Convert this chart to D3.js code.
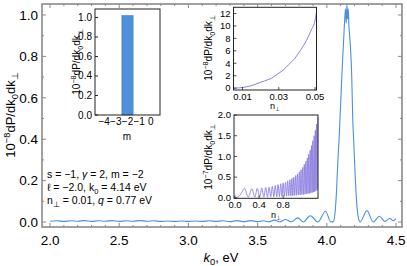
<!DOCTYPE html>
<html>
<head>
<meta charset="utf-8">
<script src="https://cdn.jsdelivr.net/npm/d3@7"></script>
<style>
  body { margin: 0; background: #fff; }
  svg { display: block; font-family: "Liberation Sans", Arial, sans-serif; }
</style>
</head>
<body>
<div id="chart"></div>
<script>
// main spectrum: k0 (eV) vs 10^-8 dP/dk0dk_perp
const mainK = [2.0, 2.05, 2.1, 2.15, 2.2, 2.25, 2.3, 2.35, 2.4, 2.45, 2.5, 2.55, 2.6, 2.65, 2.7, 2.75,
  2.8, 2.85, 2.9, 2.95, 3.0, 3.05, 3.1, 3.15, 3.2, 3.25, 3.3, 3.35, 3.4, 3.45, 3.5, 3.54, 3.58,
  3.62, 3.66, 3.70, 3.745, 3.79, 3.83, 3.88, 3.935, 3.99, 4.03, 4.047, 4.06, 4.07, 4.08, 4.085,
  4.09, 4.095, 4.105, 4.115, 4.12, 4.125, 4.13, 4.135, 4.14, 4.145, 4.15, 4.155, 4.16, 4.165,
  4.17, 4.18, 4.187, 4.195, 4.205, 4.215, 4.228, 4.24, 4.29, 4.335, 4.38, 4.42, 4.455, 4.48, 4.5];
const mainV = [0.004, 0.006, 0.003, 0.006, 0.004, 0.007, 0.003, 0.006, 0.004, 0.007, 0.003, 0.006,
  0.004, 0.007, 0.004, 0.006, 0.003, 0.005, 0.003, 0.005, 0.003, 0.005, 0.003, 0.006, 0.003, 0.006,
  0.002, 0.007, 0.002, 0.007, 0.002, 0.006, 0.001, 0.009, 0.001, 0.012, 0.001, 0.02, 0.0, 0.03,
  0.0, 0.052, 0.0, 0.002, 0.05, 0.15, 0.3, 0.36, 0.42, 0.5, 0.65, 0.8, 0.86, 0.93, 0.99, 1.03,
  0.96, 1.05, 0.98, 1.03, 0.94, 0.9, 0.85, 0.7, 0.5, 0.38, 0.22, 0.1, 0.02, 0.0, 0.055, 0.0,
  0.028, 0.002, 0.018, 0.006, 0.016];

// inset 1: bar chart over m
const barM = [-4, -3, -2, -1, 0];
const barV = [0, 0, 1.02, 0, 0];

// inset 2: small n_perp range
const smallN = [0.005, 0.0085, 0.012, 0.0155, 0.0186, 0.022, 0.026, 0.029, 0.0324, 0.0355,
  0.0389, 0.042, 0.0453, 0.048, 0.05, 0.0508];
const smallV = [0.0, 0.05, 0.2, 0.45, 0.8, 1.15, 1.6, 2.2, 2.9, 3.8, 4.8, 6.1, 7.7, 9.4, 10.9, 12.3];

// inset 3: wide n_perp range (oscillating)
const wideN = [0, 0.05, 0.1, 0.156, 0.22, 0.28, 0.33, 0.37, 0.41, 0.445, 0.48, 0.51, 0.54, 0.567,
  0.594, 0.62, 0.645, 0.67, 0.693, 0.716, 0.738, 0.76, 0.78, 0.8, 0.82, 0.84, 0.858, 0.876, 0.894,
  0.912, 0.929, 0.946, 0.962, 0.978, 0.994, 1.01, 1.025, 1.04, 1.055, 1.07, 1.084, 1.098, 1.112,
  1.126, 1.139, 1.152, 1.165, 1.178, 1.19, 1.202, 1.214, 1.226, 1.238, 1.25, 1.261, 1.272, 1.283,
  1.294, 1.305, 1.316, 1.326, 1.336, 1.346, 1.356, 1.366, 1.376];
const wideV = [0, 0.02, 0.1, 0.23, 0.02, 0.22, 0.02, 0.23, 0.02, 0.24, 0.02, 0.25, 0.02, 0.26,
  0.03, 0.28, 0.03, 0.3, 0.03, 0.32, 0.03, 0.34, 0.04, 0.36, 0.04, 0.38, 0.04, 0.41, 0.05, 0.44,
  0.05, 0.47, 0.05, 0.5, 0.06, 0.54, 0.06, 0.58, 0.07, 0.63, 0.07, 0.68, 0.08, 0.74, 0.08, 0.81,
  0.09, 0.88, 0.1, 0.96, 0.1, 1.05, 0.11, 1.15, 0.12, 1.26, 0.13, 1.38, 0.14, 1.5, 0.15, 1.63,
  0.17, 1.78, 0.2, 1.95];

const mainXTicks = [2.0, 2.5, 3.0, 3.5, 4.0, 4.5];
const mainYTicks = [0.0, 0.2, 0.4, 0.6, 0.8, 1.0];
const barYTicks = [0.0, 0.2, 0.4, 0.6, 0.8, 1.0];
const smallXTicks = [0.01, 0.03, 0.05];
const smallYTicks = [0, 2, 4, 6, 8, 10, 12];
const wideXTicks = [0.0, 0.4, 0.8];
const wideYTicks = [0.0, 0.5, 1.0, 1.5, 2.0];

const W = 407, H = 266;
const blue = "#4a90dc";
const purple = "#8b7de0";

const svg = d3.select("#chart").append("svg")
  .attr("width", W).attr("height", H);

// helper: rotated y-title "10^p dP/dk0dk⊥"
function yTitle(g, x, y, size, power) {
  const t = g.append("text")
    .attr("transform", `translate(${x},${y}) rotate(-90)`)
    .attr("text-anchor", "middle")
    .style("font-size", size + "px");
  t.append("tspan").text("10");
  t.append("tspan").attr("dy", -size * 0.4).style("font-size", size * 0.72 + "px").text(power);
  t.append("tspan").attr("dy", size * 0.4).text("dP/dk");
  t.append("tspan").attr("dy", size * 0.25).style("font-size", size * 0.72 + "px").text("0");
  t.append("tspan").attr("dy", -size * 0.25).text("dk");
  t.append("tspan").attr("dy", size * 0.25).style("font-size", size * 0.72 + "px").text("⊥");
}

function nPerp(g, x, y, size) {
  const t = g.append("text").attr("x", x).attr("y", y)
    .attr("text-anchor", "middle").style("font-size", size + "px");
  t.append("tspan").text("n");
  t.append("tspan").attr("dy", size * 0.25).style("font-size", size * 0.7 + "px").text("⊥");
}

// frame with inward ticks on all sides
function frame(g, x, y, xt, yt, color, width, tickLen, fontSize, fmtX, fmtY, labelGap) {
  const [x0, x1] = x.range();
  const [y0, y1] = y.range();
  g.append("rect")
    .attr("x", x0).attr("y", y1)
    .attr("width", x1 - x0).attr("height", y0 - y1)
    .attr("fill", "none").attr("stroke", color).attr("stroke-width", width);
  g.selectAll(null).data(xt).join("line")
    .attr("x1", d => x(d)).attr("x2", d => x(d))
    .attr("y1", y0).attr("y2", y0 - tickLen)
    .attr("stroke", color).attr("stroke-width", 0.8);
  g.selectAll(null).data(yt).join("line")
    .attr("x1", x0).attr("x2", x0 + tickLen)
    .attr("y1", d => y(d)).attr("y2", d => y(d))
    .attr("stroke", color).attr("stroke-width", 0.8);
  g.selectAll(null).data(xt).join("text")
    .attr("x", d => x(d)).attr("y", y0 + labelGap)
    .attr("text-anchor", "middle").style("font-size", fontSize + "px")
    .text(fmtX);
  g.selectAll(null).data(yt).join("text")
    .attr("x", x0 - 3).attr("y", d => y(d))
    .attr("dy", "0.35em")
    .attr("text-anchor", "end").style("font-size", fontSize + "px")
    .text(fmtY);
}

// ---- main plot ----
const x = d3.scaleLinear().domain([1.942, 4.543]).range([42, 402]);
const y = d3.scaleLinear().domain([-0.024, 1.053]).range([227, 4]);

const main = svg.append("g");
main.append("rect").attr("x", 42).attr("y", 4).attr("width", 360).attr("height", 223)
  .attr("fill", "none").attr("stroke", "#8a8a8a").attr("stroke-width", 1.6);

const minorX = d3.range(20, 46).map(d => d / 10);
const minorY = d3.range(0, 11).map(d => d / 10);
main.selectAll(null).data(minorX).join("line")
  .attr("x1", d => x(d)).attr("x2", d => x(d))
  .attr("y1", 227).attr("y2", d => 227 - (mainXTicks.includes(d) ? 4 : 2))
  .attr("stroke", "#8a8a8a");
main.selectAll(null).data(minorX).join("line")
  .attr("x1", d => x(d)).attr("x2", d => x(d))
  .attr("y1", 4).attr("y2", d => 4 + (mainXTicks.includes(d) ? 4 : 2))
  .attr("stroke", "#8a8a8a");
main.selectAll(null).data(minorY).join("line")
  .attr("x1", 42).attr("x2", (d, i) => 42 + (i % 2 === 0 ? 4 : 2))
  .attr("y1", d => y(d)).attr("y2", d => y(d))
  .attr("stroke", "#8a8a8a");
main.selectAll(null).data(minorY).join("line")
  .attr("x1", 402).attr("x2", (d, i) => 402 - (i % 2 === 0 ? 4 : 2))
  .attr("y1", d => y(d)).attr("y2", d => y(d))
  .attr("stroke", "#8a8a8a");

main.selectAll(null).data(mainXTicks).join("text")
  .attr("x", d => x(d)).attr("y", 245)
  .attr("text-anchor", "middle").style("font-size", "13.5px")
  .text(d => d.toFixed(1));
main.selectAll(null).data(mainYTicks).join("text")
  .attr("x", 38).attr("y", d => y(d)).attr("dy", "0.35em")
  .attr("text-anchor", "end").style("font-size", "13.5px")
  .text(d => d.toFixed(1));

yTitle(main, 15, 115, 13, "−8");
const xt = main.append("text").attr("x", 221).attr("y", 262)
  .attr("text-anchor", "middle").style("font-size", "13px");
xt.append("tspan").style("font-style", "italic").text("k");
xt.append("tspan").attr("dy", 3).style("font-size", "9.5px").text("0");
xt.append("tspan").attr("dy", -3).text(", eV");

const mainData = mainK.map((k, i) => [k, mainV[i]]);
main.append("path")
  .datum(mainData)
  .attr("fill", "none").attr("stroke", blue).attr("stroke-width", 1.1)
  .attr("d", d3.line().x(d => x(d[0])).y(d => y(d[1])).curve(d3.curveMonotoneX));

// parameter text
const info = svg.append("g").style("font-size", "10.5px");
const l1 = info.append("text").attr("x", 47).attr("y", 178);
l1.append("tspan").text("s = −1, ");
l1.append("tspan").style("font-style", "italic").text("γ");
l1.append("tspan").text(" = 2,  m = −2");
const l2 = info.append("text").attr("x", 47).attr("y", 191);
l2.append("tspan").text("ℓ = −2.0,  k");
l2.append("tspan").attr("dy", 2.5).style("font-size", "7.5px").text("0");
l2.append("tspan").attr("dy", -2.5).text(" = 4.14 eV");
const l3 = info.append("text").attr("x", 47).attr("y", 204);
l3.append("tspan").text("n");
l3.append("tspan").attr("dy", 2.5).style("font-size", "7.5px").text("⊥");
l3.append("tspan").attr("dy", -2.5).text(" = 0.01,  ");
l3.append("tspan").style("font-style", "italic").text("q");
l3.append("tspan").text(" = 0.77 eV");

// ---- inset 1: bars ----
const bx = d3.scaleBand().domain(barM).range([95, 160]).paddingInner(0.04).paddingOuter(0.3);
const by = d3.scaleLinear().domain([0, 1.087]).range([115, 9]);
const ins1 = svg.append("g");
ins1.append("rect").attr("x", 95).attr("y", 9).attr("width", 65).attr("height", 106)
  .attr("fill", "#fff");
ins1.selectAll(null).data(barM).join("rect")
  .attr("x", d => bx(d)).attr("width", bx.bandwidth())
  .attr("y", (d, i) => by(barV[i])).attr("height", (d, i) => by(0) - by(barV[i]))
  .attr("fill", blue).attr("stroke", "#3d6fa8").attr("stroke-width", 0.5);
ins1.append("rect").attr("x", 95).attr("y", 9).attr("width", 65).attr("height", 106)
  .attr("fill", "none").attr("stroke", "#222").attr("stroke-width", 1);
ins1.selectAll(null).data(barYTicks).join("line")
  .attr("x1", 95).attr("x2", 98).attr("y1", d => by(d)).attr("y2", d => by(d)).attr("stroke", "#222");
ins1.selectAll(null).data(barYTicks).join("text")
  .attr("x", 92).attr("y", d => by(d)).attr("dy", "0.35em")
  .attr("text-anchor", "end").style("font-size", "10px").text(d => d.toFixed(1));
ins1.selectAll(null).data(barM).join("text")
  .attr("x", d => bx(d) + bx.bandwidth() / 2).attr("y", 125)
  .attr("text-anchor", "middle").style("font-size", "10px")
  .text(d => d < 0 ? "−" + Math.abs(d) : String(d));
ins1.append("text").attr("x", 127).attr("y", 140).attr("text-anchor", "middle")
  .style("font-size", "10px").text("m");
yTitle(ins1, 80, 62, 10, "−8");

// ---- inset 2 ----
const sx = d3.scaleLinear().domain([0.005, 0.0508]).range([233.5, 316.5]);
const sy = d3.scaleLinear().domain([-0.3, 13.0]).range([90, 7.3]);
const ins2 = svg.append("g");
ins2.append("rect").attr("x", 233.5).attr("y", 7.3).attr("width", 83).attr("height", 82.7).attr("fill", "#fff");
ins2.append("path")
  .datum(smallN.map((n, i) => [n, smallV[i]]))
  .attr("fill", "none").attr("stroke", purple).attr("stroke-width", 1)
  .attr("d", d3.line().x(d => sx(d[0])).y(d => sy(d[1])).curve(d3.curveMonotoneX));
frame(ins2, sx, sy, smallXTicks, smallYTicks, "#222", 1, 3, 9.5,
  d => d.toFixed(2), d => String(d), 10);
nPerp(ins2, 275, 109, 9);
yTitle(ins2, 212, 48, 10, "−8");

// ---- inset 3 ----
const wx = d3.scaleLinear().domain([-0.017, 1.38]).range([234, 318]);
const wy = d3.scaleLinear().domain([-0.01, 2.0]).range([198.3, 115]);
const ins3 = svg.append("g");
ins3.append("rect").attr("x", 234).attr("y", 115).attr("width", 84).attr("height", 83.3).attr("fill", "#fff");
ins3.append("path")
  .datum(wideN.map((n, i) => [n, wideV[i]]))
  .attr("fill", "none").attr("stroke", purple).attr("stroke-width", 0.9)
  .attr("d", d3.line().x(d => wx(d[0])).y(d => wy(d[1])).curve(d3.curveMonotoneX));
frame(ins3, wx, wy, wideXTicks, wideYTicks, "#222", 1, 3, 9.5,
  d => d.toFixed(1), d => d.toFixed(1), 10);
nPerp(ins3, 276, 218, 9);
yTitle(ins3, 212, 157, 10, "−7");
</script>
</body>
</html>
